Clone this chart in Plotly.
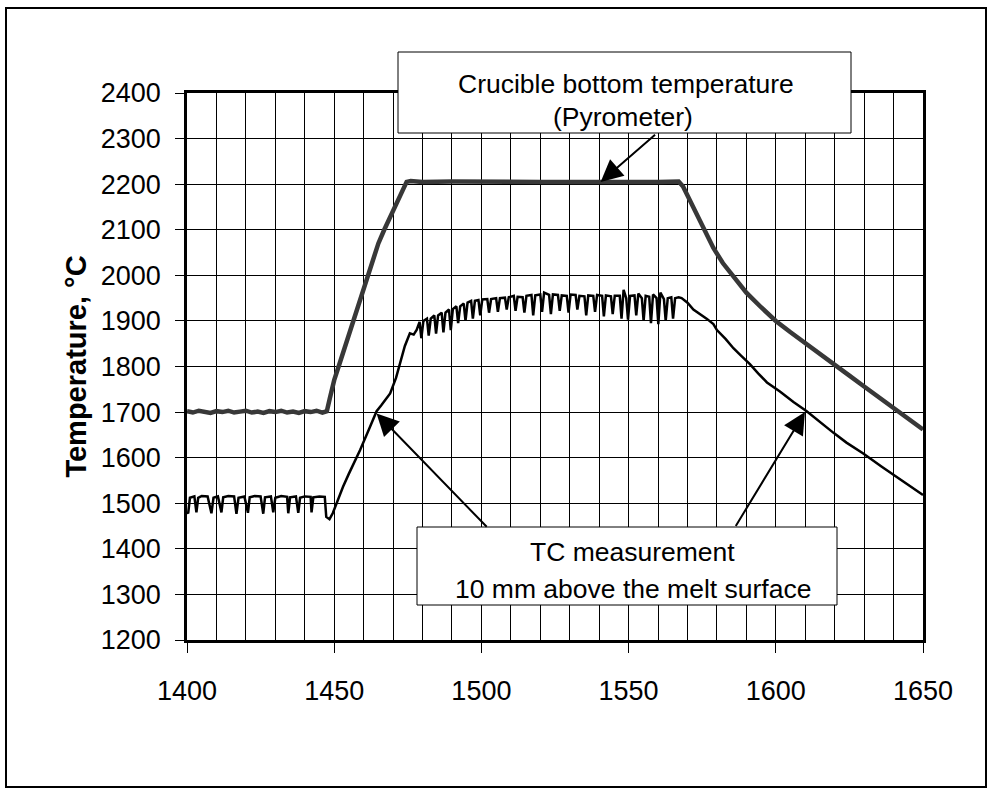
import plotly.graph_objects as go

# ---------------- data ----------------
pyro_time = [1400, 1402, 1404, 1406, 1408, 1410, 1412, 1414, 1416, 1418, 1420, 1422, 1424,
             1426, 1428, 1430, 1432, 1434, 1436, 1438, 1440, 1442, 1444, 1446, 1447.5,
             1448.5, 1450, 1452, 1454, 1456, 1458, 1461, 1463, 1465, 1467, 1469.5, 1472,
             1474.6, 1476, 1480, 1490, 1500, 1510, 1520, 1530, 1540, 1550, 1560, 1567,
             1568.5, 1570, 1572, 1574, 1576.5, 1578.8, 1582, 1585.6, 1590, 1595, 1600,
             1605, 1610, 1615, 1620, 1625, 1630, 1635, 1640, 1645, 1650]
pyro_temp = [1702, 1699, 1703, 1700, 1698, 1702, 1700, 1703, 1699, 1701, 1703, 1699, 1701,
             1698, 1702, 1700, 1703, 1699, 1701, 1698, 1702, 1700, 1703, 1699, 1702,
             1730, 1770, 1810, 1850, 1893, 1935, 1997, 2035, 2070, 2100, 2136, 2172,
             2205, 2207, 2205, 2206, 2205, 2206, 2205, 2205, 2206, 2205, 2205, 2206,
             2195, 2175, 2150, 2123, 2092, 2060, 2027, 1997, 1962, 1930, 1900,
             1875, 1852, 1828, 1805, 1780, 1756, 1733, 1710, 1686, 1662]

tc_time = [1400, 1400.4, 1401, 1402.5, 1403.2, 1403.8, 1405, 1407, 1408.3, 1409, 1410.5,
           1411.7, 1412.3, 1414, 1416, 1416.8, 1417.5, 1419.5, 1420.7, 1421.3, 1423, 1425,
           1425.9, 1426.5, 1428.5, 1429.3, 1430, 1432, 1434, 1434.4, 1435, 1437, 1437.8,
           1438.4, 1440, 1442, 1442.3, 1442.9, 1445, 1446.8, 1447.3, 1448.4, 1449.5,
           1450.8, 1453, 1455, 1458.8, 1462, 1464.4, 1466, 1469, 1471, 1472.9, 1474,
           1475.7, 1477,
           1478.0, 1479.0, 1479.6, 1480.3, 1481.5, 1482.1, 1482.8, 1484.0, 1484.6, 1485.3,
           1486.5, 1487.1, 1487.8, 1489.0, 1489.6, 1490.3, 1491.5, 1492.1, 1492.8, 1494.0,
           1494.6, 1495.3, 1496.5, 1497.1, 1497.8, 1499.0, 1499.6, 1500.3, 1502.0, 1502.6,
           1503.3, 1505.0, 1505.6, 1506.3, 1508.0, 1508.6, 1509.3, 1511.0, 1511.6, 1512.3,
           1514.0, 1514.6, 1515.3, 1517.0, 1517.6, 1518.3, 1520.0, 1520.6, 1521.3, 1523.0,
           1523.6, 1524.3, 1526.0, 1526.6, 1527.3, 1529.0, 1529.6, 1530.3, 1532.0, 1532.6,
           1533.3, 1535.0, 1535.6, 1536.3, 1538.0, 1538.6, 1539.3, 1541.0, 1541.6, 1542.3,
           1544.0, 1544.6, 1545.3, 1547.0, 1547.6, 1548.3, 1549.2, 1549.8, 1550.5, 1552.0,
           1552.6, 1553.3, 1554.5, 1555.1, 1555.8, 1557.0, 1557.6, 1558.3, 1559.5, 1560.1,
           1560.8, 1562.0, 1562.6, 1563.3, 1564.5, 1565.1, 1565.8, 1567.0,
           1568.0, 1570.0, 1572.0, 1574.3, 1576.5, 1578.8, 1580.0, 1583.0, 1585.6, 1588.0,
           1591.2, 1594.0, 1597.0, 1601.4, 1606.0, 1610.5, 1615.0, 1619.5, 1624.0, 1629.7,
           1636.0, 1642.2, 1646.0, 1650.0]
tc_temp = [1480, 1478, 1512, 1515, 1480, 1512, 1516, 1515, 1478, 1512, 1515,
           1480, 1513, 1516, 1515, 1477, 1512, 1515, 1479, 1513, 1516, 1515,
           1477, 1513, 1515, 1480, 1512, 1516, 1514, 1478, 1513, 1515, 1479,
           1512, 1515, 1514, 1480, 1513, 1515, 1514, 1470, 1465, 1478,
           1500, 1536, 1565, 1617, 1665, 1702, 1715, 1741, 1775, 1821, 1845,
           1873, 1870,
           1880, 1898, 1862, 1900, 1905, 1868, 1905, 1912, 1872, 1912,
           1918, 1875, 1918, 1925, 1880, 1926, 1932, 1895, 1932, 1938,
           1900, 1940, 1944, 1905, 1944, 1946, 1912, 1947, 1948, 1918,
           1948, 1950, 1920, 1950, 1951, 1925, 1952, 1955, 1922, 1953,
           1952, 1918, 1955, 1957, 1912, 1956, 1958, 1920, 1962, 1957,
           1915, 1958, 1957, 1922, 1956, 1955, 1918, 1958, 1957, 1925,
           1955, 1954, 1912, 1956, 1955, 1920, 1957, 1955, 1910, 1956,
           1954, 1915, 1955, 1955, 1905, 1968, 1950, 1903, 1955, 1956,
           1912, 1960, 1950, 1900, 1955, 1953, 1895, 1958, 1950, 1893,
           1962, 1948, 1900, 1950, 1952, 1905, 1950, 1952,
           1950, 1940, 1925, 1915, 1905, 1893, 1880, 1860, 1840, 1825,
           1805, 1785, 1765, 1745, 1722, 1702, 1678, 1655, 1633, 1609,
           1580, 1552, 1535, 1518]

x_range = [1400, 1650]
y_range = [1200, 2400]
x_tick_step = 50
x_grid_step = 10
y_tick_step = 100

y_title = "Temperature, °C"
pyro_label = ["Crucible bottom temperature", "(Pyrometer)"]
tc_label = ["TC measurement", "10 mm above the melt surface"]

# ---------------- layout geometry ----------------
W, H = 991, 792
L, R, T, B = 187, 923, 93, 640   # plot area in pixels
pw, ph = R - L, B - T


def px(xp):
    return (xp - L) / pw


def py(yp):
    return (B - yp) / ph


FONT = "Liberation Sans, Arial, sans-serif"
TICK_SIZE = 27
LABEL_SIZE = 26.5

fig = go.Figure()
fig.add_trace(go.Scatter(x=pyro_time, y=pyro_temp, mode="lines",
                         line=dict(color="#383838", width=4.5), showlegend=False))
fig.add_trace(go.Scatter(x=tc_time, y=tc_temp, mode="lines",
                         line=dict(color="#000000", width=2.5), showlegend=False))

fig.update_layout(
    width=W, height=H,
    margin=dict(l=L, r=W - R, t=T, b=H - B, autoexpand=False),
    paper_bgcolor="white", plot_bgcolor="white",
    font=dict(family=FONT, color="black"),
    showlegend=False,
)
fig.update_xaxes(
    range=x_range, dtick=x_tick_step, tick0=1400,
    showgrid=True, gridcolor="black", gridwidth=1.3,
    minor=dict(dtick=x_grid_step, tick0=1400, showgrid=True, gridcolor="black", gridwidth=1.3),
    ticks="outside", ticklen=10, tickcolor="black", tickwidth=1,
    showline=True, linecolor="black", linewidth=2.5, mirror=True,
    tickfont=dict(size=TICK_SIZE, family=FONT), ticklabelstandoff=15,
    zeroline=False,
)
fig.update_yaxes(
    range=y_range, dtick=y_tick_step, tick0=1200,
    showgrid=True, gridcolor="black", gridwidth=1.3,
    ticks="outside", ticklen=9, tickcolor="black", tickwidth=1,
    showline=True, linecolor="black", linewidth=2.5, mirror=True,
    tickfont=dict(size=TICK_SIZE, family=FONT), ticklabelstandoff=9,
    title=dict(text="<b>" + y_title + "</b>", font=dict(size=29, family=FONT), standoff=6),
    zeroline=False,
)

shapes = []
# outer frame
shapes.append(dict(type="rect", xref="paper", yref="paper",
                   x0=px(6), x1=px(986), y0=py(787), y1=py(8),
                   line=dict(color="black", width=2), fillcolor="rgba(0,0,0,0)"))
# label boxes
shapes.append(dict(type="rect", xref="paper", yref="paper",
                   x0=px(398), x1=px(851), y0=py(133), y1=py(52),
                   line=dict(color="black", width=1), fillcolor="white", layer="above"))
shapes.append(dict(type="rect", xref="paper", yref="paper",
                   x0=px(417), x1=px(837), y0=py(605), y1=py(527),
                   line=dict(color="black", width=1), fillcolor="white", layer="above"))
fig.update_layout(shapes=shapes)

ann = []
# box texts
ann.append(dict(xref="paper", yref="paper", x=px(626), y=py(84), text=pyro_label[0],
                showarrow=False, font=dict(size=LABEL_SIZE, family=FONT), xanchor="center", yanchor="middle"))
ann.append(dict(xref="paper", yref="paper", x=px(623), y=py(117), text=pyro_label[1],
                showarrow=False, font=dict(size=LABEL_SIZE, family=FONT), xanchor="center", yanchor="middle"))
ann.append(dict(xref="paper", yref="paper", x=px(632), y=py(552), text=tc_label[0],
                showarrow=False, font=dict(size=LABEL_SIZE, family=FONT), xanchor="center", yanchor="middle"))
ann.append(dict(xref="paper", yref="paper", x=px(633), y=py(589), text=tc_label[1],
                showarrow=False, font=dict(size=LABEL_SIZE, family=FONT), xanchor="center", yanchor="middle"))

# arrows (tip in data coords, tail in data coords)
arrows = [
    (1540.5, 2205, 1559.5, 2311),
    (1464.4, 1697, 1502.3, 1445),
    (1609.9, 1700, 1586.1, 1447),
]
for xt, yt, xa, ya in arrows:
    ann.append(dict(x=xt, y=yt, ax=xa, ay=ya, xref="x", yref="y", axref="x", ayref="y",
                    text="", showarrow=True, arrowhead=2, arrowsize=2.2, arrowwidth=2,
                    arrowcolor="black"))
fig.update_layout(annotations=ann)

fig.write_html("out.html")
